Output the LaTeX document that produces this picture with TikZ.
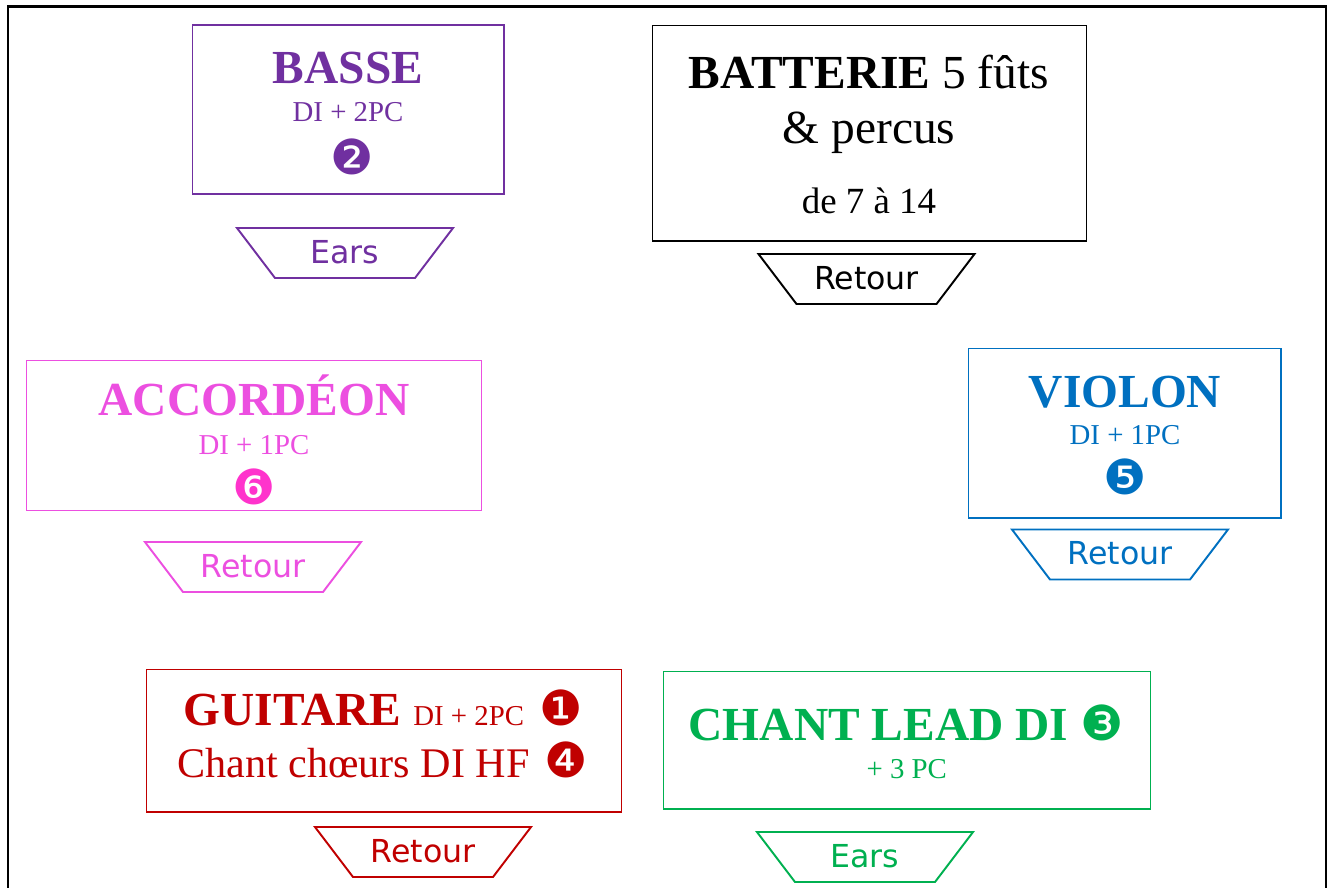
\documentclass[tikz,border=0pt]{standalone}
\usepackage{fontspec}
\setmainfont{Liberation Serif}
\newfontfamily\sansfam{DejaVu Sans}
\definecolor{cBasse}{HTML}{7030A0}
\definecolor{cAccord}{HTML}{EC4FE0}
\definecolor{cAccordNum}{HTML}{FF33CC}
\definecolor{cViolon}{HTML}{0070C0}
\definecolor{cGuitare}{HTML}{C00000}
\definecolor{cChant}{HTML}{00B050}
\tikzset{
boite/.style={draw, line width=0.6pt, inner sep=0pt},
titre/.style={anchor=base, inner sep=0pt, font=\fontsize{27}{32}\selectfont\bfseries},
detail/.style={anchor=base, inner sep=0pt, font=\fontsize{16.4}{20}\selectfont},
pastille/.style={anchor=center, inner sep=0pt, font=\sansfam\fontsize{27.5}{32}\selectfont},
retour/.pic={
  \draw[line width=1.1pt] (-108,-25) -- (108,-25) -- (70,25) -- (-70,25) -- cycle;
  \node[font=\sansfam\fontsize{18}{22}\selectfont, inner sep=0pt] (-texte) at (0,-1) {\tikzpictext};
  }
}
\begin{document}
\begin{tikzpicture}[x=0.02cm, y=-0.02cm]
\useasboundingbox (0,0) rectangle (1328,887);
\draw[line width=1.4pt] (8,900) -- (8,6.5) -- (1326,6.5) -- (1326,900);

\node[boite, draw=cBasse, minimum width=6.24cm, minimum height=3.38cm] (basse) at (348,109.5) {};
\node[titre, text=cBasse] (basse-nom) at (348,83) {BASSE};
\node[detail, text=cBasse] (basse-di) at (348,121) {DI + 2PC};
\node[pastille, text=cBasse] (basse-num) at (352,157) {❷};
\pic[color=cBasse, pic text=Ears] (basse-ears) at (345,253) {retour};

\node[boite, minimum width=8.7cm, minimum height=4.32cm] (batterie) at (869.5,133) {};
\node[titre, font=\fontsize{27}{32}\selectfont] (batterie-nom) at (869,88) {\textbf{BATTERIE} 5 fûts};
\node[titre, font=\fontsize{27}{32}\selectfont] (batterie-percus) at (869,143) {\& percus};
\node[titre, font=\fontsize{21}{25}\selectfont] (batterie-voies) at (869,213) {de 7 à 14};
\pic[pic text=Retour] (batterie-retour) at (866.5,279) {retour};

\node[boite, draw=cAccord, minimum width=9.12cm, minimum height=3cm] (accord) at (254,435.7) {};
\node[titre, text=cAccord] (accord-nom) at (254,415) {ACCORDÉON};
\node[detail, text=cAccord] (accord-di) at (254,454) {DI + 1PC};
\node[pastille, text=cAccordNum] (accord-num) at (254,487) {❻};
\pic[color=cAccord, pic text=Retour] (accord-retour) at (253,567) {retour};

\node[boite, draw=cViolon, minimum width=6.26cm, minimum height=3.4cm] (violon) at (1124.5,433) {};
\node[titre, text=cViolon] (violon-nom) at (1125,407) {VIOLON};
\node[detail, text=cViolon] (violon-di) at (1125,444) {DI + 1PC};
\node[pastille, text=cViolon] (violon-num) at (1125,477) {❺};
\pic[color=cViolon, pic text=Retour] (violon-retour) at (1120,554.5) {retour};

\node[boite, draw=cGuitare, minimum width=9.52cm, minimum height=2.86cm] (guitare) at (384,740.5) {};
\node[titre, text=cGuitare] (guitare-nom) at (383,725) {GUITARE {\mdseries\fontsize{16.4}{20}\selectfont DI + 2PC}\hspace{0.3cm}{\mdseries\sansfam\fontsize{27.5}{32}\selectfont ❶}};
\node[titre, text=cGuitare, font=\fontsize{24}{28}\selectfont] (guitare-choeurs) at (382.5,777) {Chant chœurs DI HF\hspace{0.3cm}{\sansfam\fontsize{27.5}{32}\selectfont ❹}};
\pic[color=cGuitare, pic text=Retour] (guitare-retour) at (423,852) {retour};

\node[boite, draw=cChant, minimum width=9.76cm, minimum height=2.76cm] (chant) at (907,740) {};
\node[titre, text=cChant] (chant-nom) at (906,740) {CHANT LEAD DI {\mdseries\sansfam\fontsize{27.5}{32}\selectfont ❸}};
\node[detail, text=cChant] (chant-pc) at (906.7,778) {+ 3 PC};
\pic[color=cChant, pic text=Ears] (chant-ears) at (865,857) {retour};
\end{tikzpicture}
\end{document}
